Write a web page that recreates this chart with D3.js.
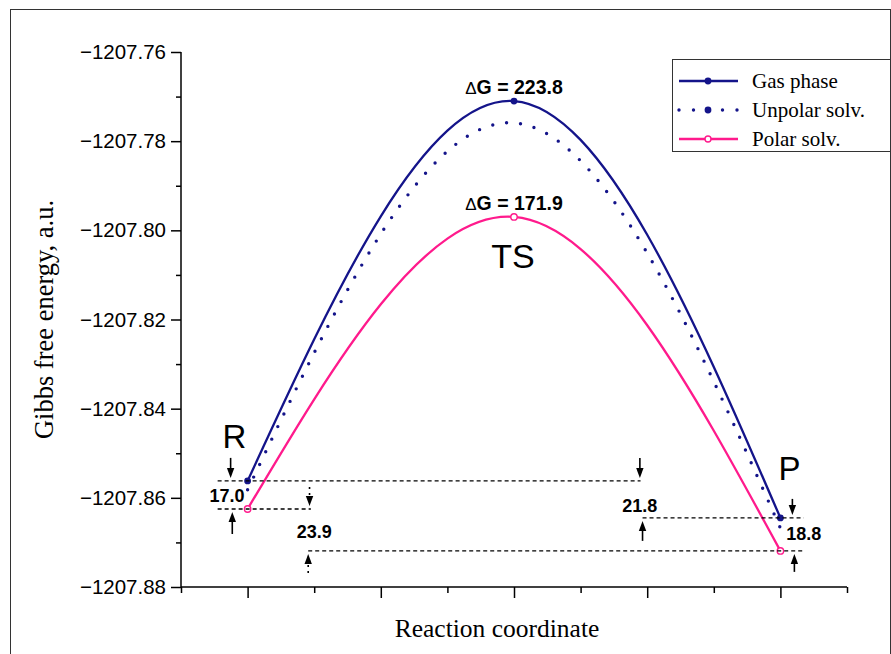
<!DOCTYPE html>
<html>
<head>
<meta charset="utf-8">
<script src="https://cdn.jsdelivr.net/npm/d3@7"></script>
<style>
  body { margin: 0; background: #fff; }
  svg { display: block; }
</style>
</head>
<body>
<div id="chart"></div>
<script>
// Gibbs free energy profile, Hartree (a.u.), at R / TS / P
const stages = [1, 5, 9];
const gasPhase = [-1207.8562, -1207.7710, -1207.8645];
const unpolarSolv = [-1207.8582, -1207.7759, -1207.8668];
const polarSolv = [-1207.8625, -1207.7970, -1207.8719];

const yTicks = [-1207.88, -1207.86, -1207.84, -1207.82, -1207.80, -1207.78, -1207.76];
const yMinorTicks = [-1207.87, -1207.85, -1207.83, -1207.81, -1207.79, -1207.77];
const xTicks = [0, 1, 2, 3, 4, 5, 6, 7, 8, 9, 10];
const xLongTicks = [1, 3, 5, 7, 9];

// kJ/mol values written on the chart
const barriers = ['223.8', '171.9'];
const gaps = ['17.0', '23.9', '21.8', '18.8'];

const W = 891, H = 654;
const navy = '#14148a';
const pink = '#ff1a8c';
const sans = '"Liberation Sans", Arial, sans-serif';
const serif = '"Liberation Serif", "Times New Roman", serif';

const svg = d3.select('#chart').append('svg')
    .attr('width', W).attr('height', H);

// outer frame
svg.append('rect')
    .attr('x', 10.5).attr('y', 9.5)
    .attr('width', 880).attr('height', 700)
    .attr('fill', 'none').attr('stroke', '#333').attr('stroke-width', 1);

const x = d3.scaleLinear().domain([0, 10]).range([181, 847]);
const y = d3.scaleLinear().domain([-1207.88, -1207.76]).range([587, 52]);

// axes
const yAxis = svg.append('g').attr('transform', 'translate(181,0)')
    .call(d3.axisLeft(y).tickValues(yTicks).tickSize(10).tickPadding(5)
        .tickFormat(d3.format('.2f')));
svg.append('g').attr('transform', 'translate(181,0)')
    .call(d3.axisLeft(y).tickValues(yMinorTicks).tickSize(5).tickFormat(''))
    .select('.domain').remove();
yAxis.selectAll('text').attr('font-family', sans).attr('font-size', 20.5).attr('fill', '#000');

const xAxis = svg.append('g').attr('transform', 'translate(0,587)')
    .call(d3.axisBottom(x).tickValues(xTicks).tickSize(6).tickFormat(''));
xAxis.selectAll('.tick line')
    .attr('y2', d => xLongTicks.includes(d) ? 11 : 6);

svg.selectAll('.domain, .tick line').attr('stroke', '#000').attr('stroke-width', 1.5);
// no outer tick stubs off the domain ends
yAxis.select('.domain').attr('d', `M0,${y(-1207.76)}V${y(-1207.88)}`);
xAxis.select('.domain').attr('d', `M${x(0)},0H${x(10)}`);

// axis titles
svg.append('text')
    .attr('x', 497).attr('y', 637)
    .attr('text-anchor', 'middle')
    .attr('font-family', serif).attr('font-size', 25.5)
    .text('Reaction coordinate');
svg.append('text')
    .attr('transform', `translate(53,${(y(-1207.76) + y(-1207.88)) / 2}) rotate(-90)`)
    .attr('text-anchor', 'middle')
    .attr('font-family', serif).attr('font-size', 26.5)
    .text('Gibbs free energy, a.u.');

// curves
const line = d3.line()
    .x((d, i) => x(stages[i]))
    .y(d => y(d))
    .curve(d3.curveNatural);

svg.append('path').datum(gasPhase).attr('d', line)
    .attr('fill', 'none').attr('stroke', navy).attr('stroke-width', 2.3);
svg.append('path').datum(unpolarSolv).attr('d', line)
    .attr('fill', 'none').attr('stroke', navy).attr('stroke-width', 3.4)
    .attr('stroke-linecap', 'round').attr('stroke-dasharray', '0 14');
svg.append('path').datum(polarSolv).attr('d', line)
    .attr('fill', 'none').attr('stroke', pink).attr('stroke-width', 2.3);

svg.selectAll('.gas-pt').data(gasPhase).join('circle')
    .attr('cx', (d, i) => x(stages[i])).attr('cy', d => y(d))
    .attr('r', 3.4).attr('fill', navy);
svg.selectAll('.polar-pt').data(polarSolv).join('circle')
    .attr('cx', (d, i) => x(stages[i])).attr('cy', d => y(d))
    .attr('r', 3.2).attr('fill', '#fff').attr('stroke', pink).attr('stroke-width', 1.4);

// dashed level lines
const ann = svg.append('g');
function level(v, x0, x1) {
    ann.append('line')
        .attr('x1', x(x0)).attr('x2', x(x1))
        .attr('y1', y(v)).attr('y2', y(v))
        .attr('stroke', '#000').attr('stroke-width', 1.4)
        .attr('stroke-dasharray', '4 3');
}
level(gasPhase[0], 0.55, 6.9);
level(polarSolv[0], 0.55, 1.95);
level(polarSolv[2], 1.91, 9.35);
level(gasPhase[2], 6.93, 9.35);

// arrows: tip sits just off a level, tail some px away
function arrow(xv, v, dir, len, dashed) {
    const px = x(xv);
    const tip = y(v) + (dir === 'down' ? -3 : 3);
    const tail = tip + (dir === 'down' ? -len : len);
    const s = dir === 'down' ? -1 : 1;
    ann.append('line')
        .attr('x1', px).attr('x2', px)
        .attr('y1', tail).attr('y2', tip + s * 6)
        .attr('stroke', '#000').attr('stroke-width', 1.6)
        .attr('stroke-dasharray', dashed ? '2 4' : null);
    ann.append('path')
        .attr('d', `M${px},${tip}L${px - 3.7},${tip + s * 10}L${px + 3.7},${tip + s * 10}Z`)
        .attr('fill', '#000');
}
arrow(0.745, gasPhase[0], 'down', 20);
arrow(6.89, gasPhase[0], 'down', 20);
arrow(1.93, polarSolv[0], 'down', 19, true);
arrow(0.77, polarSolv[0], 'up', 22);
arrow(1.91, polarSolv[2], 'up', 19, true);
arrow(6.93, gasPhase[2], 'up', 20);
arrow(9.18, gasPhase[2], 'down', 16);
arrow(9.21, polarSolv[2], 'up', 18);

function bold(t, xv, yp) {
    ann.append('text')
        .attr('x', x(xv)).attr('y', yp)
        .attr('text-anchor', 'middle')
        .attr('font-family', sans).attr('font-size', 18).attr('font-weight', 'bold')
        .text(t);
}
bold(gaps[0], 0.69, 502);
bold(gaps[1], 2.0, 538);
bold(gaps[2], 6.89, 512);
bold(gaps[3], 9.35, 540);

function barrier(t, v) {
    const tx = ann.append('text')
        .attr('x', x(stages[1])).attr('y', y(v) - 7)
        .attr('text-anchor', 'middle')
        .attr('font-family', sans).attr('font-size', 19.5).attr('font-weight', 'bold');
    tx.append('tspan').attr('font-weight', 'normal').attr('font-size', 17).text('\u0394');
    tx.append('tspan').text('G = ' + t);
}
barrier(barriers[0], gasPhase[1]);
barrier(barriers[1], polarSolv[1]);

// stage labels
ann.append('text').attr('x', x(stages[0]) - 25).attr('y', 448)
    .attr('font-family', sans).attr('font-size', 33).text('R');
ann.append('text').attr('x', x(stages[1]) - 1).attr('y', 268)
    .attr('text-anchor', 'middle')
    .attr('font-family', sans).attr('font-size', 34).text('TS');
ann.append('text').attr('x', x(stages[2]) - 2).attr('y', 480)
    .attr('font-family', sans).attr('font-size', 33).text('P');

// legend
const lg = svg.append('g');
lg.append('rect').attr('x', 672.5).attr('y', 59.5).attr('width', 218).attr('height', 92)
    .attr('fill', '#fff').attr('stroke', '#333').attr('stroke-width', 1);
const legendItems = [
    { name: 'Gas phase', color: navy, kind: 'solid' },
    { name: 'Unpolar solv.', color: navy, kind: 'dot' },
    { name: 'Polar solv.', color: pink, kind: 'open' }
];
legendItems.forEach((it, i) => {
    const ly = 81 + i * 29;
    const l = lg.append('line').attr('x1', 679).attr('x2', 738)
        .attr('y1', ly).attr('y2', ly).attr('stroke', it.color);
    if (it.kind === 'dot') {
        l.attr('stroke-width', 3.4).attr('stroke-linecap', 'round')
            .attr('stroke-dasharray', '0 14.5');
    } else {
        l.attr('stroke-width', 2.3);
    }
    lg.append('circle').attr('cx', 708).attr('cy', ly)
        .attr('r', it.kind === 'open' ? 3 : 3.4)
        .attr('fill', it.kind === 'open' ? '#fff' : it.color)
        .attr('stroke', it.kind === 'open' ? it.color : 'none').attr('stroke-width', 1.4);
    lg.append('text').attr('x', 752).attr('y', ly + 7)
        .attr('font-family', serif).attr('font-size', 21)
        .text(it.name);
});
</script>
</body>
</html>
